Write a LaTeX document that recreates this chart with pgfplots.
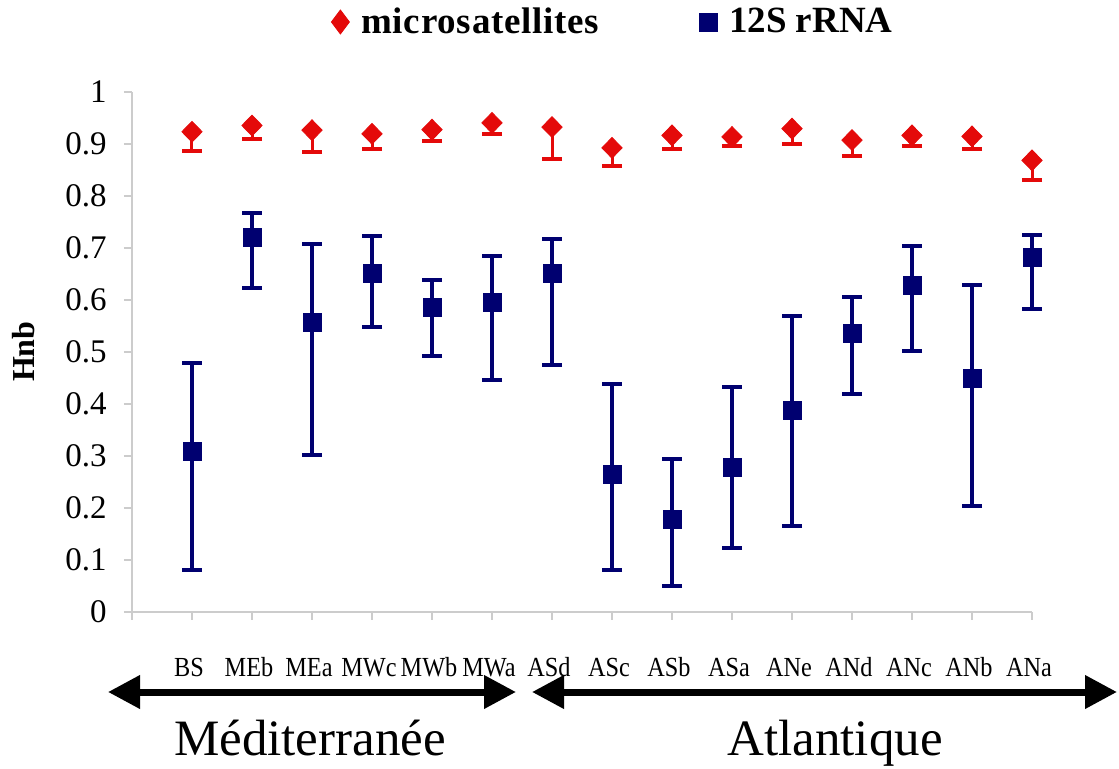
\documentclass[border=0pt]{standalone}
\usepackage{pgfplots}
\pgfplotsset{compat=1.18}
\usepackage{pgfplotstable}
\usepackage{fontspec}
\setmainfont{Liberation Serif}
\newfontfamily\tickfont{Liberation Serif}[FakeStretch=0.88]
\usetikzlibrary{arrows.meta}
\definecolor{mred}{RGB}{228,10,10}
\definecolor{mnavy}{RGB}{0,0,112}
\pgfplotstableread{
x m mm r rp rm
1 0.923 0.037 0.309 0.169 0.228
2 0.935 0.026 0.719 0.048 0.096
3 0.926 0.041 0.557 0.151 0.255
4 0.919 0.029 0.650 0.072 0.103
5 0.927 0.022 0.585 0.052 0.093
6 0.940 0.021 0.594 0.091 0.148
7 0.932 0.061 0.650 0.066 0.176
8 0.892 0.034 0.264 0.173 0.184
9 0.916 0.026 0.177 0.116 0.128
10 0.913 0.018 0.277 0.155 0.154
11 0.929 0.029 0.387 0.181 0.222
12 0.907 0.031 0.535 0.070 0.116
13 0.916 0.020 0.627 0.076 0.126
14 0.914 0.024 0.448 0.181 0.245
15 0.868 0.037 0.682 0.042 0.100
}\data
\begin{document}
\begin{tikzpicture}
\useasboundingbox (0,0) rectangle (559.5pt,384pt);
\begin{axis}[
  at={(66pt,78.15pt)}, anchor=south west,
  width=450pt, height=260pt, scale only axis,
  xmin=0, xmax=15, ymin=0, ymax=1,
  clip=false,
  axis x line*=bottom, axis y line*=left,
  axis line style={draw=gray!40, line width=0.8pt},
  tick style={draw=gray!40, line width=0.8pt},
  tick align=outside, major tick length=4pt,
  xtick={0,...,15},
  xticklabels={,BS,MEb,MEa,MWc,MWb,MWa,ASd,ASc,ASb,ASa,ANe,ANd,ANc,ANb,ANa},
  xticklabel style={font=\tickfont\fontsize{13.8}{15}\selectfont, anchor=base, inner sep=0pt, yshift=-28.5pt, xshift=-1.5pt},
  ytick={0,0.1,0.2,0.3,0.4,0.5,0.6,0.7,0.8,0.9,1},
  yticklabels={0,0.1,0.2,0.3,0.4,0.5,0.6,0.7,0.8,0.9,1},
  yticklabel style={font=\fontsize{16.5}{18}\selectfont, anchor=east, inner sep=0pt, xshift=-8.5pt},
  ylabel={Hnb},
  ylabel style={font=\fontsize{16}{18}\selectfont\bfseries, at={(axis description cs:-0.12,0.5)}, anchor=center},
  legend style={at={(axis description cs:0.54,1.134)}, anchor=center, draw=none, fill=none,
    font=\fontsize{18.5}{20}\selectfont\bfseries,
    nodes={inner xsep=6pt},
    /tikz/every even column/.append style={column sep=44pt}},
  legend columns=2,
]
\addlegendimage{only marks, mark=diamond*, color=mred, mark size=6pt}
\addlegendentry{\addfontfeature{LetterSpace=2}microsatellites}
\addlegendimage{only marks, mark=square*, color=mnavy, mark size=4.5pt}
\addlegendentry{12S rRNA}
\addplot[forget plot, only marks, mark=diamond*, mark size=5.2pt, color=mred, mark options={xscale=1.3},
  error bars/.cd, y dir=minus, y explicit,
  error bar style={line width=1.5pt, mred},
  error mark options={rotate=90, mark size=5pt, line width=2pt, mred}]
  table[x=x, y=m, y error minus=mm]{\data};
\addplot[forget plot, only marks, mark=square*, mark size=4.5pt, color=mnavy,
  error bars/.cd, y dir=both, y explicit,
  error bar style={line width=2pt, mnavy},
  error mark options={rotate=90, mark size=5pt, line width=2pt, mnavy}]
  table[x=x, y=r, y error plus=rp, y error minus=rm]{\data};
\end{axis}
\draw[line width=3.5pt, {Triangle[length=16pt,width=16pt]}-{Triangle[length=16pt,width=16pt]}] (54pt,38pt) -- (258pt,38pt);
\draw[line width=3.5pt, {Triangle[length=16pt,width=16pt]}-{Triangle[length=16pt,width=16pt]}] (266pt,38pt) -- (558.5pt,38pt);
\node[anchor=base, inner sep=0pt, font=\fontsize{25.5}{28}\selectfont] at (155pt,6.5pt) {Méditerranée};
\node[anchor=base, inner sep=0pt, font=\fontsize{25.5}{28}\selectfont] at (417.5pt,6.5pt) {Atlantique};
\end{tikzpicture}
\end{document}
